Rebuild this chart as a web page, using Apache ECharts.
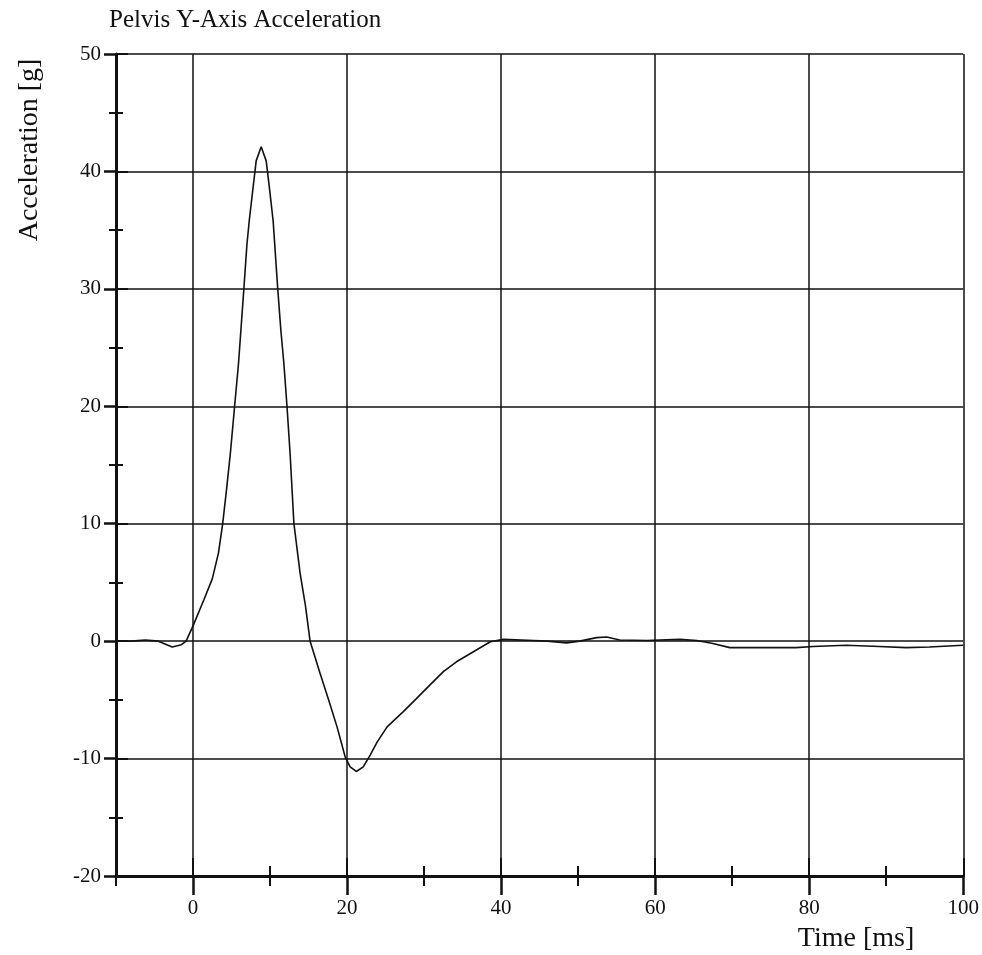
<!DOCTYPE html>
<html>
<head>
<meta charset="utf-8">
<script src="https://cdn.jsdelivr.net/npm/echarts@6/dist/echarts.min.js"></script>
<style>
  html, body { margin: 0; padding: 0; background: #fff; }
  #chart { width: 982px; height: 955px; }
</style>
</head>
<body>
<div id="chart"></div>
<script>
// pelvis Y acceleration trace
var timeMs = [-10, -8, -6.2, -4.5, -2.7, -1.5, -0.9, 0, 1.4, 2.5, 3.3, 3.85, 4.3, 4.85, 5.4, 5.9,
  6.6, 7.0, 7.3, 7.65, 8.2, 8.85, 9.5, 9.9, 10.4, 11.0, 11.4, 11.8, 12.2, 12.6, 13.1, 13.9,
  14.6, 15.2, 16.5, 17.6, 18.7, 19.75, 20.4, 21.2, 22.1, 23.0, 23.9, 25.2, 27.3, 29.0, 30.8,
  32.5, 34.2, 36.4, 38.6, 40.3, 44.2, 46.0, 48.5, 50.2, 52.4, 53.7, 55.4, 58.9, 63.2, 65.4,
  67.5, 69.7, 74.0, 78.3, 80.5, 84.8, 89.1, 92.6, 95.6, 100];
var accelG = [0, 0, 0.1, 0, -0.5, -0.3, 0, 1.3, 3.5, 5.3, 7.5, 10, 12.6, 16, 20, 23.6,
  30, 33.8, 35.8, 37.8, 40.9, 42.1, 40.9, 38.7, 35.8, 30, 26.5, 23.6, 20, 16, 10, 5.8,
  3.0, 0, -2.75, -5, -7.3, -9.85, -10.7, -11.1, -10.7, -9.7, -8.6, -7.3, -6.0, -4.9, -3.7,
  -2.6, -1.76, -0.9, -0.05, 0.15, 0.05, 0, -0.15, 0, 0.3, 0.35, 0.1, 0.05, 0.15, 0.05,
  -0.2, -0.55, -0.55, -0.55, -0.45, -0.35, -0.45, -0.55, -0.5, -0.35];

var xMajorTicks = [0, 20, 40, 60, 80, 100];
var xMinorTicks = [-10, 10, 30, 50, 70, 90];
var yMajorTicks = [-20, -10, 0, 10, 20, 30, 40, 50];
var yMinorTicks = [-15, -5, 5, 15, 25, 35, 45];

var serif = 'Liberation Serif';
var ink = '#111';

function tickAxis(min, max, pos, values, len, inside) {
  return {
    type: 'value', min: min, max: max, position: pos,
    axisLine: { show: false, onZero: false },
    axisTick: { show: true, inside: inside, length: len, customValues: values,
      lineStyle: { color: ink, width: 2 } },
    axisLabel: { show: false },
    splitLine: { show: false }
  };
}

var chart = echarts.init(document.getElementById('chart'));
chart.setOption({
  backgroundColor: '#fff',
  animation: false,
  title: {
    text: 'Pelvis Y-Axis Acceleration',
    left: 104, top: 3,
    textStyle: { fontFamily: serif, fontSize: 25, fontWeight: 'normal', color: ink }
  },
  grid: { left: 116, right: 18, top: 54, bottom: 79 },
  xAxis: [
    {
      type: 'value', min: -10, max: 100, position: 'bottom',
      axisLine: { show: true, onZero: false, lineStyle: { color: ink, width: 3 } },
      axisTick: { show: true, length: 19, customValues: xMajorTicks,
        lineStyle: { color: ink, width: 2.5 } },
      axisLabel: { show: true, customValues: xMajorTicks, margin: 22,
        fontFamily: serif, fontSize: 21, color: ink },
      splitLine: { show: true, lineStyle: { color: ink, width: 1.5 } }
    },
    tickAxis(-10, 100, 'bottom', xMajorTicks, 18, true),
    tickAxis(-10, 100, 'bottom', xMinorTicks, 10, false),
    tickAxis(-10, 100, 'bottom', xMinorTicks, 10, true)
  ],
  yAxis: [
    {
      type: 'value', min: -20, max: 50, position: 'left',
      axisLine: { show: true, onZero: false, lineStyle: { color: ink, width: 3 } },
      axisTick: { show: true, length: 12, customValues: yMajorTicks,
        lineStyle: { color: ink, width: 2.5 } },
      axisLabel: { show: true, customValues: yMajorTicks, margin: 15,
        fontFamily: serif, fontSize: 21, color: ink },
      splitLine: { show: true, lineStyle: { color: ink, width: 1.5 } }
    },
    tickAxis(-20, 50, 'left', yMajorTicks, 12, true),
    tickAxis(-20, 50, 'left', yMinorTicks, 7, false),
    tickAxis(-20, 50, 'left', yMinorTicks, 7, true)
  ],
  graphic: [
    {
      type: 'text', x: 30, y: 150, rotation: Math.PI / 2,
      style: { text: 'Acceleration [g]', font: '28px "Liberation Serif"', fill: ink,
        align: 'center', verticalAlign: 'middle' }
    },
    {
      type: 'text', x: 856, y: 939,
      style: { text: 'Time [ms]', font: '28px "Liberation Serif"', fill: ink,
        align: 'center', verticalAlign: 'middle' }
    }
  ],
  series: [{
    type: 'line',
    xAxisIndex: 0, yAxisIndex: 0,
    showSymbol: false,
    smooth: false,
    lineStyle: { color: ink, width: 1.6 },
    data: timeMs.map(function (t, i) { return [t, accelG[i]]; })
  }]
});
</script>
</body>
</html>
